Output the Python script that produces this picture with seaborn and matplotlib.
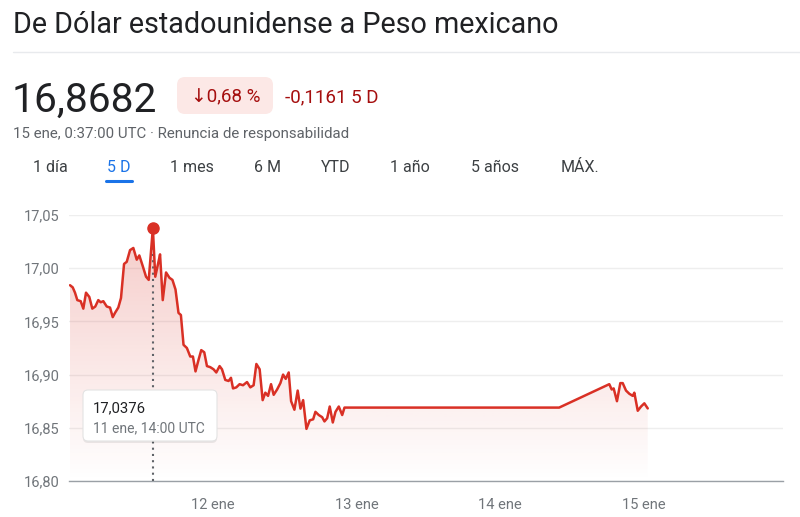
import numpy as np
import pandas as pd
import matplotlib
matplotlib.use("Agg")
import matplotlib.pyplot as plt
import seaborn as sns
from matplotlib.patches import FancyBboxPatch

# hours since 11 ene 00:00 UTC and USD/MXN rate
hours = [0.17, 0.62, 1.0, 1.39, 1.95, 2.39, 2.84, 3.39, 3.89, 4.39, 4.89, 5.29, 5.73,
         6.30, 6.85, 7.30, 7.68, 8.23, 8.68, 9.19, 9.64, 10.19, 10.74, 11.31, 11.74,
         12.31, 12.86, 13.31, 14.0, 14.4, 14.9, 15.2, 15.65, 16.2, 16.77, 17.27, 17.78,
         18.28, 18.68, 19.12, 19.68, 20.24, 20.69, 21.12, 21.63, 22.08, 22.58, 23.03,
         23.58, 24.13, 24.59, 25.14, 25.54, 26.09, 26.64, 27.04, 27.38, 27.93, 28.48,
         29.05, 29.72, 30.27, 30.82, 31.28, 31.83, 32.33, 32.78, 33.23, 33.73, 34.17,
         34.74, 35.29, 35.74, 36.18, 36.68, 37.08, 37.63, 38.18, 38.64, 39.09, 39.64,
         40.19, 40.76, 41.14, 41.70, 42.26, 42.65, 43.10, 43.53, 44.04, 44.49, 45.04,
         45.61, 45.99, 81.83, 90.2, 90.6, 90.93, 91.48, 92.04, 92.44, 92.99, 93.54,
         94.11, 94.38, 94.95, 95.5, 96.05, 96.62]
rates = [16.984, 16.982, 16.977, 16.970, 16.969, 16.962, 16.977, 16.973, 16.962, 16.964,
         16.970, 16.968, 16.969, 16.964, 16.963, 16.954, 16.958, 16.963, 16.972, 17.004,
         17.006, 17.017, 17.019, 17.008, 17.012, 17.002, 16.992, 16.989, 17.0376, 16.992,
         17.005, 17.013, 16.970, 16.996, 16.991, 16.989, 16.980, 16.958, 16.956, 16.928,
         16.925, 16.917, 16.917, 16.903, 16.914, 16.923, 16.921, 16.908, 16.907, 16.905,
         16.902, 16.908, 16.905, 16.895, 16.894, 16.897, 16.887, 16.888, 16.891, 16.890,
         16.893, 16.888, 16.890, 16.910, 16.905, 16.876, 16.883, 16.880, 16.891, 16.881,
         16.886, 16.892, 16.900, 16.896, 16.902, 16.875, 16.867, 16.885, 16.868, 16.876,
         16.849, 16.857, 16.858, 16.865, 16.862, 16.860, 16.856, 16.859, 16.870, 16.855,
         16.865, 16.870, 16.862, 16.869, 16.869, 16.891, 16.886, 16.887, 16.875, 16.892,
         16.892, 16.885, 16.882, 16.880, 16.883, 16.866, 16.870, 16.873, 16.8682]

x_ticks = [24, 48, 72, 96]
x_labels = ['12 ene', '13 ene', '14 ene', '15 ene']
y_ticks = [16.80, 16.85, 16.90, 16.95, 17.00, 17.05]

peak_hour = 14.0
peak_rate = 17.0376
peak_label = '11 ene, 14:00 UTC'

title = 'De Dólar estadounidense a Peso mexicano'
price = '16,8682'
pct_change = '↓0,68 %'
abs_change = '-0,1161 5 D'
stamp = '15 ene, 0:37:00 UTC · Renuncia de responsabilidad'
tabs = ['1 día', '5 D', '1 mes', '6 M', 'YTD', '1 año', '5 años', 'MÁX.']

sns.set_style('white')
plt.rcParams['font.family'] = ['Roboto', 'DejaVu Sans']

RED = '#d93025'
W, H = 800, 517
fig = plt.figure(figsize=(W / 100, H / 100), dpi=100)

# chart area (pixel box 69..783 x 215..481)
ax = fig.add_axes([69 / W, 1 - 481 / H, 714 / W, 266 / H])
df = pd.DataFrame({'hour': hours, 'rate': rates})

# gradient area under the line
fill = ax.fill_between(df['hour'], df['rate'], 16.80, color='none', lw=0)
grad = np.zeros((256, 1, 4))
grad[:, 0, :3] = matplotlib.colors.to_rgb(RED)
grad[:, 0, 3] = np.linspace(0.26, 0.0, 256)
im = ax.imshow(grad, extent=(hours[0], hours[-1], 16.80, 17.05), origin='upper',
               aspect='auto', zorder=1)
im.set_clip_path(fill.get_paths()[0], ax.transData)

sns.lineplot(data=df, x='hour', y='rate', ax=ax, color=RED, lw=1.8, zorder=4)

ax.plot([peak_hour, peak_hour], [16.80, peak_rate], color='#5f6368', lw=1.5,
        ls=(0, (1, 2)), zorder=3, clip_on=False)
ax.plot([peak_hour], [peak_rate], 'o', ms=8, color=RED, zorder=6, clip_on=False)

ax.set_xlim(0, 119.2)
ax.set_ylim(16.80, 17.05)
ax.set_xticks(x_ticks)
ax.set_xticklabels(x_labels)
ax.set_yticks(y_ticks)
ax.set_yticklabels([f'{v:.2f}'.replace('.', ',') for v in y_ticks])
ax.set_xlabel('')
ax.set_ylabel('')
ax.grid(axis='y', color='#eeeeee', lw=1)
ax.grid(axis='x', visible=False)
for s in ['left', 'right', 'top']:
    ax.spines[s].set_visible(False)
ax.spines['bottom'].set_color('#9aa0a6')
ax.spines['bottom'].set_linewidth(1)
ax.tick_params(axis='x', length=4, width=1.5, color='#3c4043', pad=8,
               labelsize=10.5, labelcolor='#70757a')
ax.tick_params(axis='y', length=0, pad=7, labelsize=10.5, labelcolor='#70757a')
ax.set_facecolor('none')

# overlay in pixel coordinates for header and tooltip
ov = fig.add_axes([0, 0, 1, 1], zorder=10)
ov.set_xlim(0, W)
ov.set_ylim(H, 0)
ov.axis('off')

ov.text(13, 33, title, fontsize=20.7, color='#202124', va='baseline')
ov.plot([13, W], [52, 52], color='#e8eaed', lw=1)
ov.text(12, 112, price, fontsize=29.3, color='#202124', va='baseline')
ov.add_patch(FancyBboxPatch((177, 77), 96, 37, boxstyle='round,pad=0,rounding_size=8',
                            fc='#fce8e6', ec='none'))
ov.text(225.5, 102, pct_change, fontsize=13.5, color='#a50e0e', va='baseline', ha='center')
ov.text(285, 102, abs_change, fontsize=13.5, color='#a50e0e', va='baseline')
ov.text(13, 138, stamp, fontsize=10.8, color='#5f6368', va='baseline')

tab_x = [50, 119, 192, 267, 336, 410, 495, 580]
for name, tx in zip(tabs, tab_x):
    col = '#1a73e8' if name == '5 D' else '#3c4043'
    ov.text(tx, 172, name, fontsize=11.5, color=col, va='baseline', ha='center')
ov.plot([106, 132], [180.5, 180.5], color='#1a73e8', lw=2.2, solid_capstyle='round')

# tooltip
ov.add_patch(FancyBboxPatch((83, 391), 134, 52, boxstyle='round,pad=0,rounding_size=5',
                            fc='#000000', ec='none', alpha=0.08))
ov.add_patch(FancyBboxPatch((83, 390), 134, 51, boxstyle='round,pad=0,rounding_size=5',
                            fc='white', ec='#e3e3e3', lw=0.8))
ov.text(93, 412, f'{peak_rate:.4f}'.replace('.', ','), fontsize=10.7, color='#202124',
        va='baseline')
ov.text(93, 432, peak_label, fontsize=10, color='#70757a', va='baseline')

fig.savefig('out.png', dpi=100)
